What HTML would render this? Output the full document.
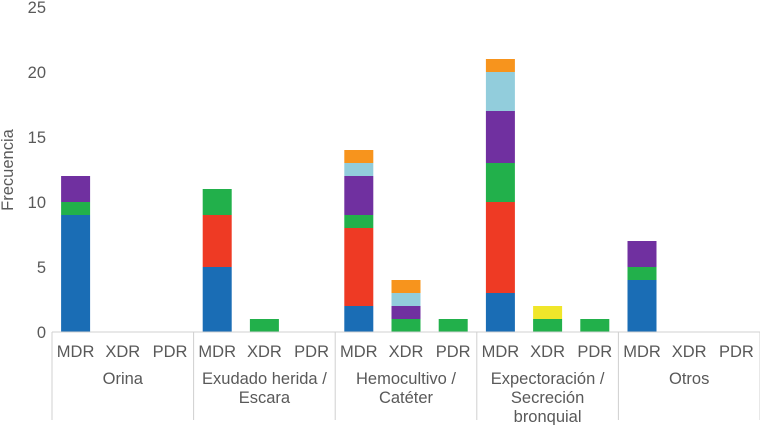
<!DOCTYPE html>
<html><head><meta charset="utf-8"><style>
body{margin:0;background:#fff}
svg text{font-family:"Liberation Sans",sans-serif;fill:#595959}
</style></head><body>
<svg id="c" width="760" height="425"></svg>
<script>
const groups=["Orina","Exudado herida /|Escara","Hemocultivo /|Catéter","Expectoración /|Secreción|bronquial","Otros"];
const subs=["MDR","XDR","PDR"];
const colors=["#1a6db5","#ee3a24","#22b04b","#7030a0","#92cddc","#f7941d","#f0e62a"];
const seriesNames=["s1","s2","s3","s4","s5","s6","s7"];
const blue  =[9,0,0, 5,0,0, 2,0,0, 3,0,0, 4,0,0];
const red   =[0,0,0, 4,0,0, 6,0,0, 7,0,0, 0,0,0];
const green =[1,0,0, 2,1,0, 1,1,1, 3,1,1, 1,0,0];
const purple=[2,0,0, 0,0,0, 3,1,0, 4,0,0, 2,0,0];
const lblue =[0,0,0, 0,0,0, 1,1,0, 3,0,0, 0,0,0];
const orange=[0,0,0, 0,0,0, 1,1,0, 1,0,0, 0,0,0];
const yellow=[0,0,0, 0,0,0, 0,0,0, 0,1,0, 0,0,0];
const yTicks=[0,5,10,15,20,25];
const series=[blue,red,green,purple,lblue,orange,yellow];
const NS="http://www.w3.org/2000/svg",svg=document.getElementById('c');
const x0=52,x1=760,y0=332,yTop=7,ymax=25,fs=16.5;
const gw=(x1-x0)/groups.length,sw=gw/3,bw=29;
const Y=v=>y0-(v/ymax)*(y0-yTop);
const X=i=>x0+i*sw+sw/2;
function mk(t,a){const e=document.createElementNS(NS,t);for(const k in a)e.setAttribute(k,a[k]);svg.appendChild(e);return e;}
yTicks.forEach(t=>{const e=mk('text',{x:46,y:Y(t)+6,'text-anchor':'end','font-size':fs});e.textContent=t;

});
const yt=mk('text',{x:13,y:170,'text-anchor':'middle','font-size':fs,transform:'rotate(-90 13 170)'});yt.textContent='Frecuencia';


for(let b=0;b<15;b++){let acc=0;series.forEach((s,si)=>{const v=s[b];if(!v)return;
const r=mk('rect',{x:X(b)-bw/2,y:Y(acc+v),width:bw,height:Y(acc)-Y(acc+v),fill:colors[si]});

acc+=v;});}
const ax=mk('line',{x1:x0,x2:x1,y1:y0,y2:y0,stroke:'#d0d0d0'});


for(let g=0;g<=groups.length;g++){const x=x0+g*gw;const l=mk('line',{x1:x,x2:x,y1:y0,y2:420,stroke:'#d0d0d0'});

}
for(let b=0;b<15;b++){const t=mk('text',{x:X(b),y:357,'text-anchor':'middle','font-size':fs});t.textContent=subs[b%3];

}
groups.forEach((g,i)=>{g.split('|').forEach((ln,j)=>{const t=mk('text',{x:x0+i*gw+gw/2,y:384+j*19,'text-anchor':'middle','font-size':fs});t.textContent=ln;

});});
</script></body></html>
